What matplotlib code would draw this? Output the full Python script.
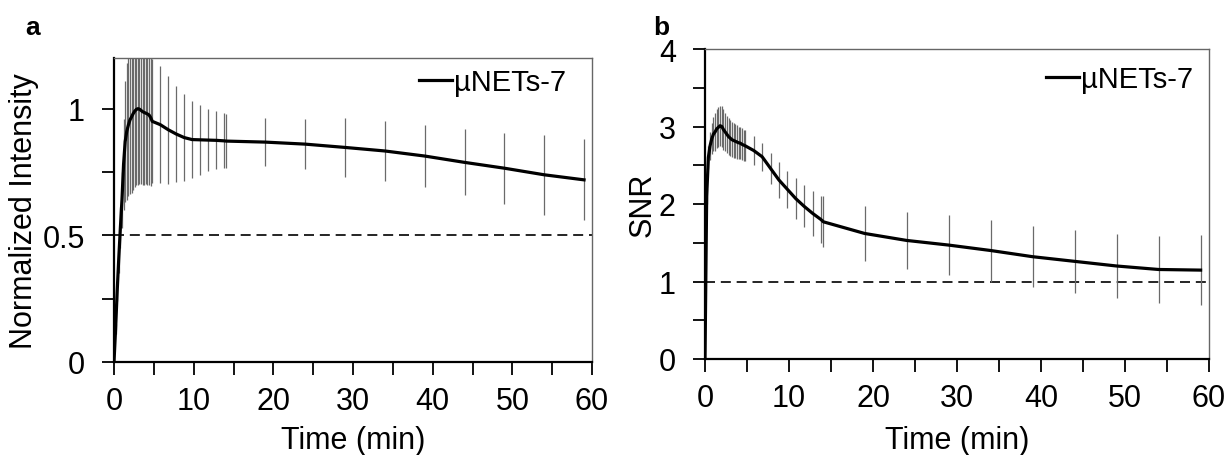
import matplotlib
matplotlib.use("Agg")
import matplotlib.pyplot as plt
import numpy as np

plt.rcParams['font.family'] = ['Liberation Sans', 'DejaVu Sans']

# ---------------- data ----------------
time_min = [0.0, 0.2, 0.4, 0.6, 0.8, 1.0, 1.2, 1.4, 1.6, 1.8, 2.0, 2.2, 2.4, 2.6, 2.8,
            3.0, 3.2, 3.4, 3.6, 3.8, 4.0, 4.2, 4.4, 4.6, 4.8,
            5.8, 6.8, 7.8, 8.8, 9.8, 10.8, 11.8, 12.8, 13.8, 14.1,
            19, 24, 29, 34, 39, 44, 49, 54, 59]

intensity_mean = [0.0, 0.13, 0.28, 0.41, 0.53, 0.64, 0.78, 0.87, 0.91, 0.935, 0.955, 0.967, 0.98, 0.99, 0.997,
                  1.0, 0.998, 0.993, 0.988, 0.985, 0.982, 0.979, 0.975, 0.965, 0.95,
                  0.937, 0.917, 0.90, 0.886, 0.878, 0.877, 0.876, 0.875, 0.873, 0.872,
                  0.868, 0.86, 0.847, 0.833, 0.813, 0.788, 0.765, 0.739, 0.719]

intensity_sd = [0.0, 0.02, 0.04, 0.06, 0.08, 0.11, 0.18, 0.24, 0.27, 0.28, 0.29, 0.30, 0.30, 0.30, 0.30,
                0.30, 0.295, 0.29, 0.29, 0.285, 0.28, 0.28, 0.275, 0.27, 0.245,
                0.232, 0.213, 0.19, 0.17, 0.152, 0.138, 0.124, 0.115, 0.108, 0.106,
                0.094, 0.10, 0.115, 0.12, 0.122, 0.13, 0.14, 0.158, 0.16]

snr_mean = [0.0, 2.1, 2.6, 2.75, 2.84, 2.9, 2.93, 2.97, 2.99, 3.01, 3.0, 2.96, 2.93, 2.9, 2.87,
            2.85, 2.83, 2.82, 2.81, 2.80, 2.79, 2.785, 2.77, 2.76, 2.75,
            2.69, 2.61, 2.46, 2.31, 2.19, 2.07, 1.97, 1.88, 1.80, 1.77,
            1.62, 1.53, 1.47, 1.40, 1.32, 1.26, 1.20, 1.155, 1.147]

snr_sd = [0.0, 0.10, 0.15, 0.18, 0.20, 0.22, 0.24, 0.25, 0.26, 0.26, 0.26, 0.26, 0.25, 0.24, 0.235,
          0.23, 0.225, 0.22, 0.22, 0.215, 0.21, 0.21, 0.205, 0.20, 0.20,
          0.19, 0.18, 0.20, 0.23, 0.24, 0.26, 0.27, 0.29, 0.30, 0.33,
          0.36, 0.37, 0.39, 0.40, 0.39, 0.41, 0.41, 0.43, 0.45]

series_label = "µNETs-7"
xticks = [0, 10, 20, 30, 40, 50, 60]

W, H = 1228, 456
fig = plt.figure(figsize=(W / 100, H / 100), dpi=100)

def px_axes(x0, y0, x1, y1):
    return fig.add_axes([x0 / W, 1 - y1 / H, (x1 - x0) / W, (y1 - y0) / H])

AX1 = (114, 59, 592, 363)
AX2 = (705, 50, 1209, 360)
ax1 = px_axes(*AX1)
ax2 = px_axes(*AX2)

TICK_FS = 22
LABEL_FS = 22
LEG_FS = 21

def style(ax, box, ylim, major_y, minor_y, ylabel, ythresh, ylabel_px, leg_px):
    x0, y0, x1, y1 = box
    w, h = x1 - x0, y1 - y0
    ax.set_xlim(0, 60)
    ax.set_ylim(*ylim)
    ax.axhline(ythresh, color='black', lw=1.2, ls=(0, (6, 3.5)), zorder=1)
    ax.set_xticks(xticks)
    ax.set_xticks(np.arange(5, 60, 10), minor=True)
    ax.set_yticks(major_y)
    ax.set_yticks(minor_y, minor=True)
    ax.set_yticklabels([('%g' % v) for v in major_y])
    ax.tick_params(which='both', direction='out', length=9, width=1.3, color='black',
                   labelsize=TICK_FS)
    ax.tick_params(axis='x', which='both', pad=8)
    ax.tick_params(axis='y', which='both', pad=12)
    for s in ['left', 'bottom']:
        ax.spines[s].set_linewidth(1.6)
        ax.spines[s].set_color('black')
    for s in ['top', 'right']:
        ax.spines[s].set_linewidth(1.0)
        ax.spines[s].set_color('#666666')
    ax.set_xlabel("Time (min)", fontsize=LABEL_FS)
    ax.xaxis.set_label_coords(0.5, (y1 - 426) / h)
    ax.set_ylabel(ylabel, fontsize=LABEL_FS)
    ax.yaxis.set_label_coords((ylabel_px - x0) / w, 0.5)
    lx, ly = leg_px
    ax.legend(loc='center right', bbox_to_anchor=((lx - x0) / w, (y1 - ly) / h),
              frameon=False, fontsize=LEG_FS, handlelength=1.13,
              handletextpad=0.05, borderpad=0, borderaxespad=0)

# Panel a
ax1.errorbar(time_min, intensity_mean, yerr=intensity_sd, fmt='none', ecolor='#6a6a6a',
             elinewidth=0.9, capsize=0, zorder=2)
ax1.plot(time_min, intensity_mean, color='black', lw=2.3, label=series_label, zorder=3)
style(ax1, AX1, (0, 1.2), [0, 0.5, 1], [0.25, 0.75], "Normalized Intensity", 0.5,
      39, (566, 83))

# Panel b
ax2.errorbar(time_min, snr_mean, yerr=snr_sd, fmt='none', ecolor='#6a6a6a',
             elinewidth=0.9, capsize=0, zorder=2)
ax2.plot(time_min, snr_mean, color='black', lw=2.3, label=series_label, zorder=3)
style(ax2, AX2, (0, 4), [0, 1, 2, 3, 4], [0.5, 1.5, 2.5, 3.5], "SNR", 1.0,
      658, (1193, 80))

fig.text(25 / W, 1 - 35 / H, "a", fontsize=19, fontweight='bold', ha='left', va='baseline')
fig.text(653 / W, 1 - 35 / H, "b", fontsize=19, fontweight='bold', ha='left', va='baseline')

fig.savefig("out.png", dpi=100)
